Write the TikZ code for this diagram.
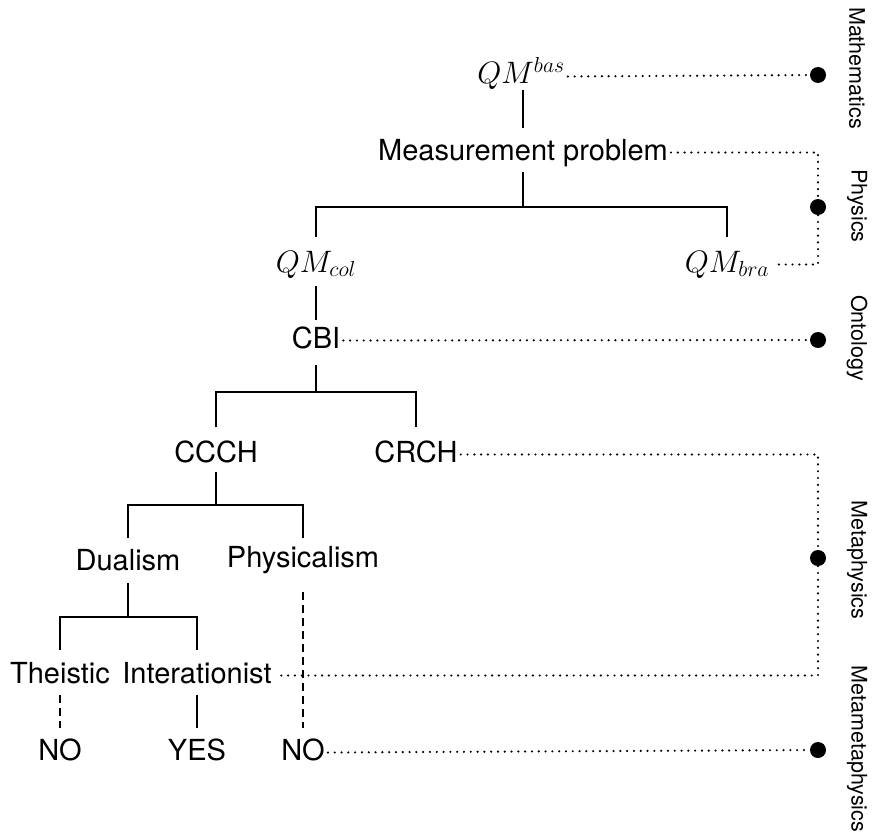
\RequirePackage{fix-cm}
\documentclass[tikz,border=0pt]{standalone}
\usepackage{fontspec}
\setmainfont{TeX Gyre Heros}
\begin{document}
\begin{tikzpicture}[x=1pt,y=-1pt,
  lbl/.style={font=\fontsize{29}{34}\selectfont, anchor=base, inner xsep=3pt, inner ysep=0pt,
              text height=21pt, text depth=6pt},
  mth/.style={lbl, font=\fontsize{31}{37}\selectfont},
  side/.style={font=\fontsize{21.5}{25}\selectfont, rotate=-90, inner sep=0pt},
  tl/.style={line width=1.8pt},
  dl/.style={line width=2.4pt, line cap=round, dash pattern=on 0pt off 6.8pt},
  dsh/.style={line width=1.8pt, dash pattern=on 8pt off 5pt},
  dot/.style={circle, fill=black, minimum size=16pt, inner sep=0pt}]
\useasboundingbox (0,0) rectangle (877,832);

% tree nodes
\node[mth] (qmbas) at (521,84)  {$QM^{bas}$};
\node[lbl] (mp)    at (523,160) {Measurement problem};
\node[mth] (qmcol) at (316,272) {$QM_{col}$};
\node[mth] (qmbra) at (727,272) {$QM_{bra}$};
\node[lbl] (cbi)   at (316,348) {CBI};
\node[lbl] (ccch)  at (216,462) {CCCH};
\node[lbl] (crch)  at (416,462) {CRCH};
\node[lbl] (dual)  at (128,570) {Dualism};
\node[lbl] (phys)  at (303,567) {Physicalism};
\node[lbl] (thei)  at (60,683)  {Theistic};
\node[lbl] (inter) at (197,683) {Interationist};
\node[lbl] (no1)   at (60,760)  {NO};
\node[lbl] (yes)   at (197,760) {YES};
\node[lbl] (no2)   at (303,760) {NO};

% branching points
\coordinate (b1) at (523,207);
\coordinate (b2) at (316,392);
\coordinate (b3) at (216,505);
\coordinate (b4) at (128,617);

% tree connectors
\draw[tl] ([xshift=2pt,yshift=-6pt]qmbas.base) -- ([yshift=32pt]mp.base);
\draw[tl] ([yshift=-12pt]mp.base) -- (b1);
\draw[tl] ([yshift=35pt]qmcol.base) |- (b1) -| ([yshift=35pt]qmbra.base);
\draw[tl] ([yshift=-14pt]qmcol.base) -- ([yshift=28pt]cbi.base);
\draw[tl] ([yshift=-17pt]cbi.base) -- (b2);
\draw[tl] ([yshift=35pt]ccch.base) |- (b2) -| ([yshift=35pt]crch.base);
\draw[tl] ([yshift=-10pt]ccch.base) -- (b3);
\draw[tl] ([yshift=32pt]dual.base) |- (b3) -| ([yshift=29pt]phys.base);
\draw[tl] ([yshift=-13pt]dual.base) -- (b4);
\draw[tl] ([yshift=33pt]thei.base) |- (b4) -| ([yshift=33pt]inter.base);
\draw[dsh] ([yshift=-12pt]thei.base) -- ([yshift=32pt]no1.base);
\draw[tl] ([yshift=-12pt]inter.base) -- ([yshift=32pt]yes.base);
\draw[dsh] ([yshift=-25pt]phys.base) -- ([yshift=32pt]no2.base);

% level markers
\node[dot] (d1) at (818,75)  {};
\node[dot] (d2) at (818,207) {};
\node[dot] (d3) at (818,340) {};
\node[dot] (d4) at (818,558) {};
\node[dot] (d5) at (818,750) {};

\draw[dl] (qmbas.east) -- (d1);
\draw[dl] (mp.east) -| (d2) |- (qmbra.east);
\draw[dl] (cbi.east) -- (d3);
\draw[dl] (crch.east) -| (d4) |- (inter.east);
\draw[dl] (no2.east) -- (d5);

% level names
\node[side] (sm)  at (857,68)  {Mathematics};
\node[side] (sp)  at (857,206) {Physics};
\node[side] (so)  at (857,338) {Ontology};
\node[side] (smp) at (857,560) {Metaphysics};
\node[side] (smm) at (857,749) {Metametaphysics};
\end{tikzpicture}
\end{document}
